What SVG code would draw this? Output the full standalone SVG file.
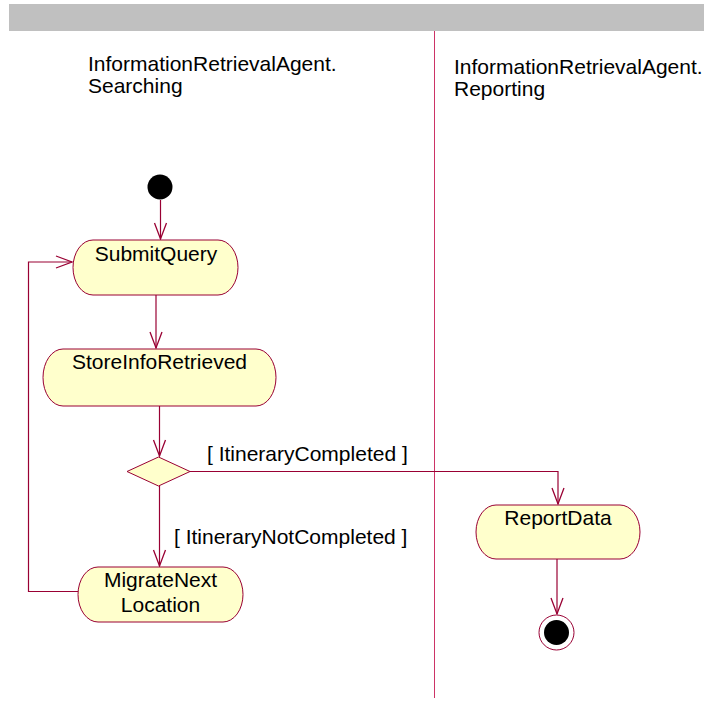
<svg xmlns="http://www.w3.org/2000/svg" width="704" height="702" viewBox="0 0 704 702">
  <style>
    text { font-family: "Liberation Sans", Arial, sans-serif; font-size: 21px; fill: #000; }
    .act { fill: #FFFFCC; stroke: #990033; stroke-width: 1; }
    .conn { fill: none; stroke: #990033; stroke-width: 1.2; }
    .mid { text-anchor: middle; }
  </style>
  <defs>
    <marker id="arr" viewBox="-18 -8 20 16" markerWidth="20" markerHeight="16" refX="0" refY="0" orient="auto" markerUnits="userSpaceOnUse">
      <path d="M-16,-6 L0,0 L-16,6" fill="none" stroke="#990033" stroke-width="1.3"/>
    </marker>
  </defs>

  <rect x="0" y="0" width="704" height="702" fill="#FFFFFF"/>

  <g id="swimlanes">
    <rect x="9" y="4" width="695" height="27" fill="#C0C0C0"/>
    <line x1="434.5" y1="31" x2="434.5" y2="698" stroke="#CC3366" stroke-width="1"/>
    <text x="88" y="71">InformationRetrievalAgent.</text>
    <text x="88" y="93">Searching</text>
    <text x="454" y="74">InformationRetrievalAgent.</text>
    <text x="454" y="96">Reporting</text>
  </g>

  <g id="connectors">
    <path class="conn" d="M160.5,200 V239" marker-end="url(#arr)"/>
    <path class="conn" d="M156,295 V348" marker-end="url(#arr)"/>
    <path class="conn" d="M159.5,406 V456" marker-end="url(#arr)"/>
    <path class="conn" d="M190,471.5 H558 V504" marker-end="url(#arr)"/>
    <path class="conn" d="M159.5,486 V566" marker-end="url(#arr)"/>
    <path class="conn" d="M78,591.5 H28.5 V262 H72" marker-end="url(#arr)"/>
    <path class="conn" d="M557,559 V614" stroke-width="2" marker-end="url(#arr)"/>
    <text x="207" y="461">[ ItineraryCompleted ]</text>
    <text x="174" y="544">[ ItineraryNotCompleted ]</text>
  </g>

  <g id="initial">
    <circle cx="160" cy="187" r="12.5" fill="#000"/>
  </g>

  <g id="SubmitQuery">
    <rect class="act" x="73" y="240" width="165" height="55" rx="20" ry="27.5"/>
    <text class="mid" x="156" y="261">SubmitQuery</text>
  </g>

  <g id="StoreInfoRetrieved">
    <rect class="act" x="43" y="349" width="233" height="57" rx="20" ry="28.5"/>
    <text class="mid" x="159.5" y="369">StoreInfoRetrieved</text>
  </g>

  <g id="decision">
    <polygon class="act" points="127,471.5 158.5,457 190,471.5 158.5,486"/>
  </g>

  <g id="MigrateNextLocation">
    <rect class="act" x="78" y="567" width="165" height="55" rx="20" ry="27.5"/>
    <text class="mid" x="160.5" y="587">MigrateNext</text>
    <text class="mid" x="160.5" y="612">Location</text>
  </g>

  <g id="ReportData">
    <rect class="act" x="476" y="505" width="164" height="54" rx="20" ry="27"/>
    <text class="mid" x="558" y="525">ReportData</text>
  </g>

  <g id="final">
    <circle cx="556.5" cy="632.5" r="17.5" fill="#FFFFFF" stroke="#990033" stroke-width="1"/>
    <circle cx="556.5" cy="632.5" r="12.5" fill="#000"/>
  </g>
</svg>
